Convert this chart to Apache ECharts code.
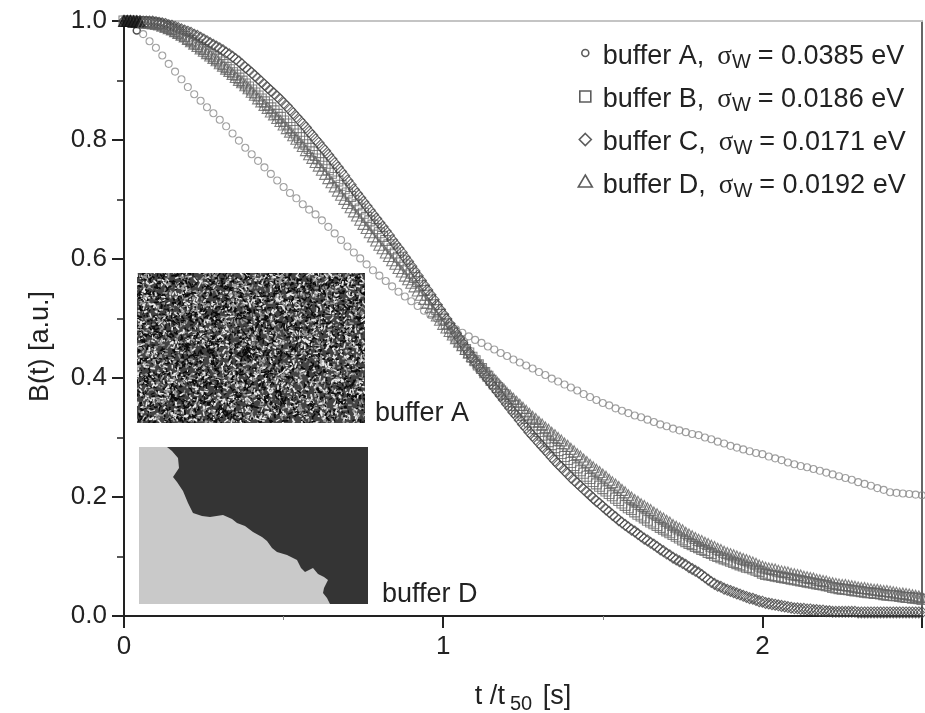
<!DOCTYPE html>
<html><head><meta charset="utf-8">
<script src="https://cdn.jsdelivr.net/npm/echarts@6/dist/echarts.min.js"></script>
<style>html,body{margin:0;padding:0;background:#fff}#c{width:925px;height:713px;filter:blur(0.45px)}</style>
</head><body><div id="c"></div>
<script>
const tValuesA=[
0.00,0.02,0.04,0.06,0.08,0.10,0.12,0.14,0.16,0.18,
0.20,0.22,0.24,0.26,0.28,0.30,0.32,0.34,0.36,0.38,
0.40,0.42,0.44,0.46,0.48,0.50,0.52,0.54,0.56,0.58,
0.60,0.62,0.64,0.66,0.68,0.70,0.72,0.74,0.76,0.78,
0.80,0.82,0.84,0.86,0.88,0.90,0.92,0.94,0.96,0.98,
1.00,1.02,1.04,1.06,1.08,1.10,1.12,1.14,1.16,1.18,
1.20,1.22,1.24,1.26,1.28,1.30,1.32,1.34,1.36,1.38,
1.40,1.42,1.44,1.46,1.48,1.50,1.52,1.54,1.56,1.58,
1.60,1.62,1.64,1.66,1.68,1.70,1.72,1.74,1.76,1.78,
1.80,1.82,1.84,1.86,1.88,1.90,1.92,1.94,1.96,1.98,
2.00,2.02,2.04,2.06,2.08,2.10,2.12,2.14,2.16,2.18,
2.20,2.22,2.24,2.26,2.28,2.30,2.32,2.34,2.36,2.38,
2.40,2.42,2.44,2.46,2.48,2.50];
const tValues=[
0.00,0.01,0.02,0.03,0.04,0.05,0.06,0.07,0.08,0.09,
0.10,0.11,0.12,0.13,0.14,0.15,0.16,0.17,0.18,0.19,
0.20,0.21,0.22,0.23,0.24,0.25,0.26,0.27,0.28,0.29,
0.30,0.31,0.32,0.33,0.34,0.35,0.36,0.37,0.38,0.39,
0.40,0.41,0.42,0.43,0.44,0.45,0.46,0.47,0.48,0.49,
0.50,0.51,0.52,0.53,0.54,0.55,0.56,0.57,0.58,0.59,
0.60,0.61,0.62,0.63,0.64,0.65,0.66,0.67,0.68,0.69,
0.70,0.71,0.72,0.73,0.74,0.75,0.76,0.77,0.78,0.79,
0.80,0.81,0.82,0.83,0.84,0.85,0.86,0.87,0.88,0.89,
0.90,0.91,0.92,0.93,0.94,0.95,0.96,0.97,0.98,0.99,
1.00,1.01,1.02,1.03,1.04,1.05,1.06,1.07,1.08,1.09,
1.10,1.11,1.12,1.13,1.14,1.15,1.16,1.17,1.18,1.19,
1.20,1.21,1.22,1.23,1.24,1.25,1.26,1.27,1.28,1.29,
1.30,1.31,1.32,1.33,1.34,1.35,1.36,1.37,1.38,1.39,
1.40,1.41,1.42,1.43,1.44,1.45,1.46,1.47,1.48,1.49,
1.50,1.51,1.52,1.53,1.54,1.55,1.56,1.57,1.58,1.59,
1.60,1.61,1.62,1.63,1.64,1.65,1.66,1.67,1.68,1.69,
1.70,1.71,1.72,1.73,1.74,1.75,1.76,1.77,1.78,1.79,
1.80,1.81,1.82,1.83,1.84,1.85,1.86,1.87,1.88,1.89,
1.90,1.91,1.92,1.93,1.94,1.95,1.96,1.97,1.98,1.99,
2.00,2.01,2.02,2.03,2.04,2.05,2.06,2.07,2.08,2.09,
2.10,2.11,2.12,2.13,2.14,2.15,2.16,2.17,2.18,2.19,
2.20,2.21,2.22,2.23,2.24,2.25,2.26,2.27,2.28,2.29,
2.30,2.31,2.32,2.33,2.34,2.35,2.36,2.37,2.38,2.39,
2.40,2.41,2.42,2.43,2.44,2.45,2.46,2.47,2.48,2.49,
2.50];
const bufferA=[
1.000,0.995,0.984,0.978,0.966,0.955,0.942,0.928,0.915,0.902,
0.889,0.877,0.866,0.855,0.845,0.834,0.823,0.811,0.799,0.787,
0.776,0.765,0.754,0.743,0.732,0.721,0.711,0.702,0.692,0.683,
0.675,0.665,0.654,0.643,0.632,0.621,0.611,0.601,0.591,0.581,
0.572,0.563,0.554,0.545,0.537,0.529,0.521,0.513,0.506,0.500,
0.494,0.488,0.482,0.476,0.470,0.464,0.459,0.453,0.448,0.442,
0.437,0.431,0.426,0.421,0.416,0.410,0.405,0.399,0.394,0.389,
0.384,0.379,0.373,0.368,0.363,0.358,0.354,0.349,0.345,0.341,
0.337,0.334,0.330,0.326,0.322,0.319,0.315,0.312,0.309,0.306,
0.304,0.300,0.297,0.293,0.290,0.286,0.283,0.280,0.277,0.274,
0.272,0.268,0.265,0.262,0.258,0.255,0.252,0.250,0.247,0.244,
0.241,0.238,0.235,0.232,0.229,0.225,0.222,0.219,0.215,0.212,
0.208,0.207,0.206,0.205,0.204,0.203];
const bufferB=[
1.000,1.000,1.000,0.999,0.999,0.999,0.999,0.998,0.998,0.997,
0.996,0.995,0.993,0.991,0.988,0.986,0.983,0.980,0.977,0.974,
0.970,0.967,0.963,0.960,0.956,0.952,0.948,0.944,0.940,0.936,
0.931,0.927,0.922,0.918,0.913,0.909,0.904,0.899,0.894,0.889,
0.884,0.879,0.874,0.869,0.864,0.859,0.854,0.849,0.843,0.838,
0.832,0.827,0.821,0.816,0.810,0.804,0.798,0.792,0.786,0.780,
0.774,0.768,0.762,0.756,0.750,0.744,0.737,0.731,0.724,0.718,
0.711,0.705,0.698,0.691,0.684,0.677,0.670,0.664,0.657,0.651,
0.644,0.638,0.631,0.624,0.617,0.610,0.603,0.597,0.590,0.583,
0.576,0.569,0.562,0.555,0.547,0.539,0.531,0.523,0.515,0.507,
0.499,0.491,0.484,0.476,0.469,0.462,0.455,0.448,0.442,0.435,
0.429,0.422,0.416,0.409,0.403,0.396,0.390,0.384,0.378,0.372,
0.366,0.360,0.354,0.348,0.343,0.337,0.332,0.326,0.321,0.315,
0.310,0.304,0.299,0.293,0.288,0.283,0.278,0.273,0.268,0.263,
0.258,0.253,0.249,0.244,0.240,0.235,0.231,0.226,0.222,0.218,
0.214,0.210,0.206,0.202,0.198,0.194,0.190,0.186,0.182,0.179,
0.175,0.171,0.168,0.165,0.161,0.158,0.155,0.152,0.149,0.146,
0.143,0.140,0.137,0.134,0.131,0.128,0.125,0.122,0.120,0.117,
0.115,0.112,0.110,0.107,0.105,0.102,0.100,0.098,0.096,0.094,
0.092,0.090,0.088,0.086,0.084,0.082,0.081,0.079,0.077,0.075,
0.072,0.070,0.069,0.068,0.067,0.066,0.065,0.064,0.063,0.062,
0.061,0.060,0.059,0.058,0.057,0.056,0.055,0.054,0.053,0.052,
0.051,0.050,0.048,0.047,0.046,0.045,0.045,0.044,0.043,0.042,
0.042,0.041,0.040,0.039,0.039,0.038,0.038,0.037,0.036,0.035,
0.035,0.034,0.034,0.033,0.032,0.031,0.031,0.030,0.030,0.029,
0.028];
const bufferC=[
1.000,1.000,1.000,1.000,1.000,1.000,0.999,0.999,0.999,0.999,
0.998,0.997,0.996,0.995,0.993,0.992,0.990,0.988,0.986,0.984,
0.982,0.980,0.977,0.975,0.972,0.969,0.966,0.963,0.960,0.957,
0.954,0.951,0.947,0.944,0.940,0.936,0.932,0.927,0.922,0.918,
0.913,0.908,0.903,0.898,0.893,0.888,0.883,0.878,0.873,0.868,
0.862,0.857,0.851,0.845,0.839,0.833,0.827,0.821,0.814,0.808,
0.801,0.795,0.788,0.782,0.775,0.768,0.761,0.754,0.747,0.740,
0.732,0.725,0.717,0.710,0.703,0.696,0.689,0.682,0.675,0.668,
0.661,0.654,0.647,0.640,0.632,0.625,0.618,0.611,0.603,0.596,
0.588,0.580,0.572,0.564,0.556,0.548,0.540,0.532,0.523,0.515,
0.507,0.499,0.491,0.483,0.475,0.467,0.459,0.451,0.443,0.435,
0.427,0.420,0.412,0.405,0.398,0.391,0.384,0.377,0.370,0.363,
0.356,0.349,0.342,0.336,0.329,0.322,0.316,0.309,0.303,0.297,
0.291,0.285,0.279,0.273,0.267,0.261,0.255,0.250,0.244,0.239,
0.233,0.228,0.223,0.218,0.213,0.208,0.203,0.198,0.193,0.189,
0.184,0.179,0.175,0.170,0.166,0.161,0.157,0.153,0.149,0.145,
0.142,0.138,0.134,0.130,0.127,0.123,0.120,0.116,0.112,0.109,
0.105,0.102,0.098,0.095,0.092,0.089,0.086,0.082,0.079,0.076,
0.073,0.069,0.065,0.061,0.057,0.054,0.051,0.049,0.046,0.044,
0.042,0.040,0.038,0.036,0.034,0.032,0.030,0.029,0.027,0.025,
0.024,0.022,0.021,0.020,0.019,0.018,0.017,0.016,0.015,0.014,
0.013,0.013,0.012,0.012,0.011,0.011,0.010,0.010,0.009,0.009,
0.008,0.008,0.007,0.007,0.007,0.007,0.007,0.007,0.007,0.007,
0.006,0.006,0.006,0.006,0.006,0.006,0.006,0.006,0.006,0.006,
0.006,0.006,0.006,0.006,0.006,0.006,0.006,0.006,0.006,0.006,
0.006];
const bufferD=[
1.000,1.000,1.000,0.999,0.999,0.998,0.998,0.997,0.997,0.996,
0.995,0.994,0.992,0.990,0.988,0.986,0.983,0.980,0.977,0.974,
0.970,0.966,0.962,0.958,0.954,0.950,0.946,0.942,0.938,0.934,
0.929,0.925,0.920,0.916,0.911,0.906,0.901,0.897,0.892,0.887,
0.881,0.876,0.870,0.865,0.859,0.854,0.848,0.843,0.837,0.832,
0.826,0.820,0.814,0.808,0.802,0.796,0.790,0.783,0.776,0.770,
0.763,0.757,0.750,0.743,0.736,0.729,0.722,0.715,0.708,0.701,
0.694,0.687,0.680,0.673,0.666,0.659,0.652,0.645,0.638,0.631,
0.624,0.618,0.611,0.605,0.598,0.592,0.585,0.579,0.572,0.566,
0.560,0.554,0.547,0.540,0.533,0.526,0.519,0.512,0.505,0.498,
0.491,0.485,0.479,0.473,0.467,0.461,0.455,0.449,0.443,0.437,
0.431,0.426,0.420,0.414,0.408,0.403,0.397,0.392,0.386,0.381,
0.375,0.370,0.365,0.360,0.355,0.350,0.345,0.340,0.335,0.331,
0.326,0.322,0.317,0.313,0.308,0.304,0.299,0.295,0.290,0.286,
0.281,0.277,0.272,0.268,0.263,0.259,0.254,0.250,0.246,0.242,
0.238,0.234,0.229,0.225,0.221,0.217,0.212,0.208,0.203,0.199,
0.195,0.192,0.188,0.185,0.181,0.178,0.174,0.171,0.167,0.164,
0.160,0.157,0.153,0.150,0.147,0.144,0.140,0.137,0.134,0.131,
0.128,0.126,0.123,0.121,0.118,0.116,0.113,0.111,0.108,0.106,
0.104,0.102,0.100,0.098,0.096,0.094,0.092,0.090,0.088,0.085,
0.083,0.081,0.080,0.079,0.078,0.076,0.075,0.074,0.073,0.071,
0.070,0.069,0.068,0.066,0.065,0.064,0.063,0.061,0.060,0.059,
0.058,0.056,0.055,0.054,0.053,0.052,0.052,0.051,0.050,0.049,
0.048,0.047,0.047,0.046,0.045,0.044,0.044,0.043,0.042,0.042,
0.041,0.040,0.039,0.038,0.038,0.037,0.036,0.035,0.034,0.033,
0.032];
const seriesNames=['buffer A','buffer B','buffer C','buffer D'];
const sigmaLabels=['0.0385','0.0186','0.0171','0.0192'];
const symbols=['circle','rect','diamond','triangle'];
const seriesValues=[bufferA,bufferB,bufferC,bufferD];
const seriesX=[tValuesA,tValues,tValues,tValues];

// Legend glyphs: box 15x21 so each sits a little above the text, as in the reference
const legendIcons=[
 'path://M0 0M15 21M4 7A3.5 3.5 0 1 1 11 7A3.5 3.5 0 1 1 4 7Z',
 'path://M0 0M15 21M2 2H13V13H2Z',
 'path://M0 0M15 21M7.5 1.5L13.5 7.5L7.5 13.5L1.5 7.5Z',
 'path://M0 0M15 21M7.5 0L14.5 12H0.5Z'];

// Speckled micrograph texture of the buffer A inset (deterministic, not chart data)
function speckle(w,h){
  const c=document.createElement('canvas');c.width=w;c.height=h;
  const g=c.getContext('2d');g.fillStyle='#444';g.fillRect(0,0,w,h);
  g.filter='blur(0.6px)';let s=12345;
  const r=()=>{s=(s*1103515245+12345)&0x7fffffff;return s/0x7fffffff;};
  for(let i=0;i<6000;i++){
    const x=r()*w,y=r()*h,a=r()*6.28,l=1+r()*4,t=r();
    g.strokeStyle=t<0.42?'#0a0a0a':t<0.72?'#9a9a9a':'#ececec';
    g.lineWidth=1+r()*0.9;g.beginPath();g.moveTo(x,y);
    g.lineTo(x+Math.cos(a)*l,y+Math.sin(a)*l);g.stroke();
  }
  return c;
}
const boundary=[[167,447],[172,451],[178,458],[179,468],[173,477],[177,482],[183,491],[188,503],[193,513],[202,516],[210,517],[223,515],[232,519],[237,523],[245,526],[253,532],[262,537],[267,541],[272,548],[277,552],[287,555],[297,560],[301,568],[305,572],[313,568],[318,574],[324,577],[328,580],[324,588],[323,593],[327,598],[330,604],[368,604],[368,447]];

const chart=echarts.init(document.getElementById('c'),null,{renderer:'canvas'});
const txt='#222';const font='"Liberation Sans",Arial,sans-serif';const fs=27;const tickFs=26;
const borders=['#8a8a8a','#666','#444','#626262'];
chart.setOption({
  animation:false,backgroundColor:'#fff',
  textStyle:{fontFamily:font,color:txt},
  grid:{left:124,top:21,width:798,height:595,containLabel:false,outerBoundsMode:'none'},
  legend:{
    orient:'vertical',left:572,top:38,itemGap:14,itemWidth:15,itemHeight:21,selectedMode:false,
    data:seriesNames.map((n,i)=>({name:n,icon:legendIcons[i],
      itemStyle:{color:'#fff',borderColor:'#333',borderWidth:1.6}})),
    formatter:n=>{const i=seriesNames.indexOf(n);
      return '{g|}{t|'+n+',}{g2|}{s|\u03c3}{u|W}{g3|}{t|= '+sigmaLabels[i]+' eV}';},
    textStyle:{fontFamily:font,color:txt,rich:{
      g:{width:5},g2:{width:13},g3:{width:7},
      t:{fontSize:fs,fontFamily:font,color:txt},
      s:{fontSize:fs,fontFamily:'"Liberation Serif"',color:txt},
      u:{fontSize:20,fontFamily:font,color:txt,verticalAlign:'bottom',padding:[11,0,0,0]}}}
  },
  xAxis:[{type:'value',min:0,max:2.5,interval:1,position:'bottom',
    name:'t /t{u|50} [s]',nameLocation:'middle',nameGap:64,
    nameTextStyle:{fontSize:fs,fontFamily:font,color:txt,rich:{u:{fontSize:20,fontFamily:font,color:txt,padding:[14,3,0,5]}}},
    axisLine:{onZero:false,lineStyle:{color:'#222',width:2}},
    axisTick:{length:12,lineStyle:{color:'#222',width:2}},
    minorTick:{show:true,splitNumber:2,length:4,lineStyle:{color:'#888',width:1}},
    axisLabel:{fontSize:tickFs,color:txt,fontFamily:font,margin:18,showMaxLabel:false},
    splitLine:{show:false}},
   {type:'value',min:0,max:2.5,position:'top',axisLine:{onZero:false,show:true,lineStyle:{color:'#c4c4c4',width:2}},
    axisTick:{show:false},axisLabel:{show:false},splitLine:{show:false}}],
  yAxis:[{type:'value',min:0,max:1,interval:0.2,position:'left',
    name:'B(t) [a.u.]',nameLocation:'middle',nameGap:70,
    nameTextStyle:{fontSize:fs,fontFamily:font,color:txt,padding:[0,56,0,0]},
    axisLine:{onZero:false,lineStyle:{color:'#222',width:2}},
    axisTick:{length:12,lineStyle:{color:'#222',width:2}},
    minorTick:{show:true,splitNumber:2,length:7,lineStyle:{color:'#222',width:1.5}},
    axisLabel:{fontSize:tickFs,color:txt,fontFamily:font,margin:17,formatter:v=>v.toFixed(1)},
    splitLine:{show:false}},
   {type:'value',min:0,max:1,position:'right',axisLine:{onZero:false,show:true,lineStyle:{color:'#333',width:1.5}},
    axisTick:{show:false},axisLabel:{show:false},splitLine:{show:false}}],
  series:seriesNames.map((n,i)=>({
    name:n,type:'scatter',xAxisIndex:0,yAxisIndex:0,silent:true,
    data:seriesValues[i].map((y,k)=>{
      const p={value:[seriesX[i][k],y]};
      // the earliest samples overprint into a dark blot in the reference
      if(i===3&&k<=5)p.itemStyle={color:'#222',borderColor:'#111'};
      if(i===0&&k===2)p.itemStyle={borderColor:'#222',borderWidth:1.5};
      return p;}),
    symbol:symbols[i],symbolSize:[7,10,11,11][i],clip:false,
    itemStyle:{color:'rgba(255,255,255,0)',borderColor:borders[i],borderWidth:1.1}
  })),
  graphic:[
    {type:'image',z:1,style:{image:speckle(228,150),x:137,y:273,width:228,height:150}},
    {type:'rect',z:1,shape:{x:139,y:447,width:229,height:157},style:{fill:'#c9c9c9'}},
    {type:'polygon',z:1,shape:{points:boundary},style:{fill:'#343434'}},
    {type:'text',z:5,style:{text:'buffer A',x:375,y:400,fontSize:fs,fontFamily:font,fill:txt}},
    {type:'text',z:5,style:{text:'buffer D',x:382,y:581,fontSize:fs,fontFamily:font,fill:txt}}
  ]
});
</script></body></html>
